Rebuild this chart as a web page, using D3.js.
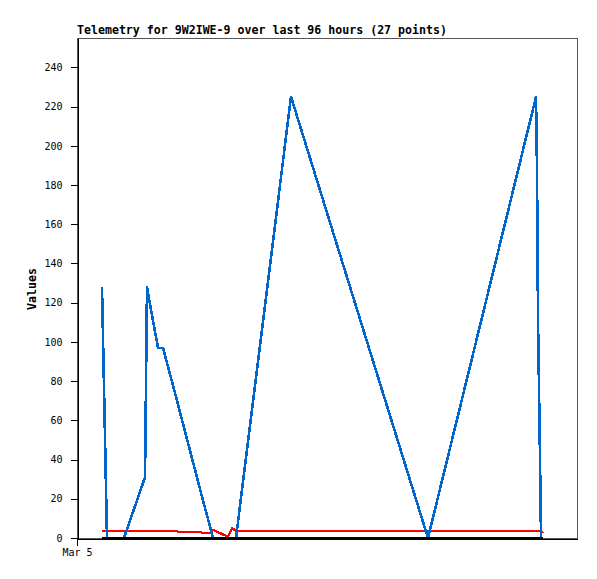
<!DOCTYPE html>
<html lang="en">
<head>
<meta charset="UTF-8">
<title>Telemetry chart</title>
<script src="https://d3js.org/d3.v7.min.js"></script>
<style>
  body { margin: 0; background: #fff; }
  svg { display: block; }
  .tick text { font-family: "DejaVu Sans Mono", monospace; font-size: 10px; fill: #000; }
</style>
</head>
<body>
<svg id="chart" width="597" height="579"></svg>
<script>
// hours since Mar 5 00:00
const hours = [4.80, 5.76, 9.02, 13.06, 13.44, 13.82, 15.55, 16.51, 19.01, 19.39,
  23.62, 24.00, 25.73, 26.11, 27.46, 28.99, 29.76, 30.53, 41.09, 67.39,
  88.13, 88.32, 88.51, 88.90, 89.09, 89.47];
const blueVals = [128, 0, 0, 31, 128, 122, 97, 97, 72, 68,
  25, 21, 4, 0, 0, 0, 0, 0, 225, 0,
  225, 188, 112, 40, 0, 0];
const redVals = [3.7, 3.7, 3.7, 3.7, 3.7, 3.7, 3.7, 3.7, 3.7, 3.2,
  3.2, 2.7, 2.7, 4.1, 2.5, 0.7, 5.0, 3.7, 3.7, 3.7,
  3.7, 3.7, 3.7, 3.7, 3.7, 2.5];
const blackVals = hours.map(() => 0);
const yTicks = [0, 20, 40, 60, 80, 100, 120, 140, 160, 180, 200, 220, 240];
const xTickLabels = ["Mar 5"];
const title = "Telemetry for 9W2IWE-9 over last 96 hours (27 points)";

const start = new Date(2024, 2, 5, 0, 0);
const times = hours.map(h => new Date(start.getTime() + h * 3600e3));

const svg = d3.select("#chart");
const m = { left: 77, top: 38, right: 577, bottom: 538 };

const x = d3.scaleTime()
  .domain([start, new Date(start.getTime() + 96 * 3600e3)])
  .range([m.left, m.right]);
const y = d3.scaleLinear().domain([0, 255]).range([m.bottom, m.top]);

// frame
svg.append("rect")
  .attr("x", m.left + 0.5).attr("y", m.top + 0.5)
  .attr("width", m.right - m.left).attr("height", m.bottom - m.top)
  .attr("fill", "none").attr("stroke", "#555").attr("shape-rendering", "crispEdges");

svg.append("text")
  .attr("x", m.left).attr("y", 34)
  .attr("font-family", "DejaVu Sans Mono, monospace")
  .attr("font-weight", "bold").attr("font-size", "11.6px")
  .text(title);

svg.append("text")
  .attr("transform", `translate(36,289) rotate(-90)`)
  .attr("text-anchor", "middle")
  .attr("font-family", "DejaVu Sans Mono, monospace")
  .attr("font-weight", "bold").attr("font-size", "11.6px")
  .text("Values");

const line = vals => d3.line()
  .x((d, i) => x(times[i]))
  .y(d => y(d))(vals);

const series = [
  { vals: redVals, color: "#ff0000", w: 2.4 },
  { vals: blueVals, color: "#0066cc", w: 2.6 },
  { vals: blackVals, color: "#000000", w: 2 }
];
series.forEach(s => {
  svg.append("path")
    .attr("d", line(s.vals))
    .attr("fill", "none")
    .attr("stroke", s.color)
    .attr("stroke-width", s.w)
    .attr("stroke-linejoin", "round")
    .attr("shape-rendering", "crispEdges");
});

const yAxis = d3.axisLeft(y).tickValues(yTicks).tickSize(7).tickPadding(8).tickSizeOuter(0);
svg.append("g")
  .attr("transform", `translate(${m.left + 0.5},0)`)
  .call(yAxis)
  .call(g => g.selectAll("line,path").attr("stroke", "#000").attr("shape-rendering", "crispEdges"));

const xAxis = d3.axisBottom(x).tickValues([start]).tickFormat((d, i) => xTickLabels[i])
  .tickSize(7).tickPadding(3).tickSizeOuter(0);
svg.append("g")
  .attr("transform", `translate(0,${m.bottom + 0.5})`)
  .call(xAxis)
  .call(g => g.selectAll("line,path").attr("stroke", "#000").attr("shape-rendering", "crispEdges"));
</script>
</body>
</html>
